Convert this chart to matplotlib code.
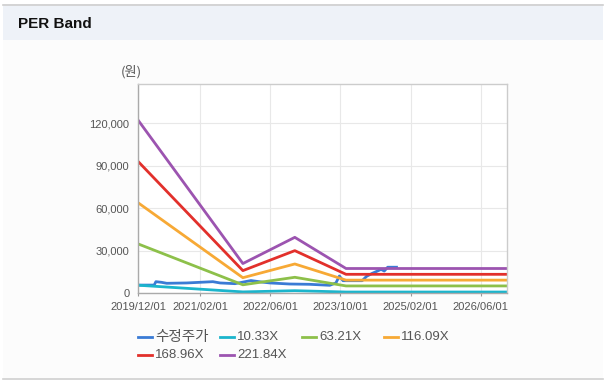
import pandas as pd
import matplotlib
matplotlib.use('Agg')
import matplotlib.pyplot as plt
from matplotlib.patches import Rectangle
from matplotlib.lines import Line2D

plt.rcParams['font.family'] = ['Liberation Sans', 'Noto Sans CJK KR', 'DejaVu Sans']

# adjusted share price (원)
price_dates = pd.to_datetime([
    '2019-12-01', '2020-03-20', '2020-04-01', '2020-05-10', '2020-06-15',
    '2020-11-01', '2021-05-01', '2021-06-20', '2021-10-01', '2022-01-20',
    '2022-04-01', '2022-06-01', '2022-10-15', '2023-03-01', '2023-07-20',
    '2023-09-01', '2023-09-25', '2023-10-20', '2024-03-01', '2024-04-01',
    '2024-05-10', '2024-06-15', '2024-07-10', '2024-08-01', '2024-08-25',
    '2024-10-25',
])
price = [
    5800, 5800, 8200, 7750, 7060,
    7300, 8200, 7300, 6800, 9000,
    8000, 7300, 6560, 6350, 5650,
    7300, 12200, 8900, 8900, 12000,
    14100, 15700, 16900, 15700, 18400,
    18400,
]

# PER band knots
band_dates = pd.to_datetime(['2019-12-01', '2021-11-25', '2022-11-20', '2023-11-10', '2026-11-30'])
band_10 = [5700, 980, 1840, 900, 900]
band_63 = [34800, 6000, 11300, 5200, 5200]
band_116 = [63800, 11000, 20700, 9300, 9300]
band_169 = [92900, 16000, 30100, 13400, 13400]
band_222 = [122000, 21000, 39500, 17500, 17500]

labels = ['수정주가', '10.33X', '63.21X', '116.09X', '168.96X', '221.84X']
colors = ['#3a7bd5', '#1bb5cc', '#8dc04a', '#f7a935', '#e2302b', '#9c54b0']

x_ticks = pd.to_datetime(['2019-12-01', '2021-02-01', '2022-06-01', '2023-10-01', '2025-02-01', '2026-06-01'])
x_ticklabels = ['2019/12/01', '2021/02/01', '2022/06/01', '2023/10/01', '2025/02/01', '2026/06/01']
y_ticks = [0, 30000, 60000, 90000, 120000]

W, H = 616, 388
fig = plt.figure(figsize=(W / 100, H / 100), dpi=100)
fig.patch.set_facecolor('white')


def fx(x):
    return x / W


def fy(y):
    return 1 - y / H


# panel + title band
fig.patches.append(Rectangle((fx(3), fy(378)), fx(600), 374 / H, transform=fig.transFigure,
                             facecolor='#fcfcfc', edgecolor='none', zorder=-5))
fig.patches.append(Rectangle((fx(3), fy(39.5)), fx(600), 35.5 / H, transform=fig.transFigure,
                             facecolor='#eef2f8', edgecolor='none', zorder=-4))
fig.lines.append(Line2D([fx(3), fx(603)], [fy(4.5), fy(4.5)], transform=fig.transFigure,
                        color='#cfcfcf', lw=1.2))
fig.lines.append(Line2D([fx(3), fx(603)], [fy(378.5), fy(378.5)], transform=fig.transFigure,
                        color='#d0d0d0', lw=1.2))
fig.text(fx(18), fy(23.5), 'PER Band', fontsize=11, fontweight='bold', color='#111111',
         va='center', ha='left')

ax = fig.add_axes([fx(138.3), fy(293.3), (506.7 - 138.3) / W, (293.3 - 84.3) / H])
ax.set_facecolor('white')

series = [(price_dates, price), (band_dates, band_10), (band_dates, band_63),
          (band_dates, band_116), (band_dates, band_169), (band_dates, band_222)]
for (d, v), c in zip(series, colors):
    ax.plot(d, v, color=c, lw=2.0, solid_joinstyle='round', drawstyle='default')

ax.set_xlim(pd.Timestamp('2019-12-01'), pd.Timestamp('2026-11-28'))
ax.set_ylim(0, 147500)
ax.set_xticks(x_ticks)
ax.set_xticklabels(x_ticklabels)
ax.set_yticks(y_ticks)
ax.set_yticklabels([f'{t:,}' for t in y_ticks])
ax.grid(True, color='#e8e8e8', lw=0.8)
ax.set_axisbelow(True)
ax.tick_params(axis='x', length=2.5, width=0.8, color='#999999', pad=3.5, labelsize=8, labelcolor='#555555')
ax.tick_params(axis='y', length=0, pad=6.5, labelsize=8, labelcolor='#555555')
for s in ['left', 'bottom']:
    ax.spines[s].set_color('#aaaaaa')
for s in ['top', 'right']:
    ax.spines[s].set_color('#cccccc')
for s in ax.spines.values():
    s.set_linewidth(1.0)

fig.text(fx(131), fy(71.5), '(원)', fontsize=9.5, color='#555555', ha='center', va='center',
         family=['Noto Sans CJK KR', 'DejaVu Sans'])

# legend, laid out like the original (4 columns, 2 rows)
for i, (lab, c) in enumerate(zip(labels, colors)):
    col, row = i % 4, i // 4
    x0 = 138 + 82 * col
    y0 = 337 + 18 * row
    fig.lines.append(Line2D([fx(x0), fx(x0 + 14)], [fy(y0), fy(y0)], transform=fig.transFigure,
                            color=c, lw=2.0))
    fs = 10.5 if i == 0 else 9.5
    fig.text(fx(x0 + 17), fy(y0), lab, fontsize=fs, color='#555555', ha='left', va='center')

fig.savefig('out.png', dpi=100)
